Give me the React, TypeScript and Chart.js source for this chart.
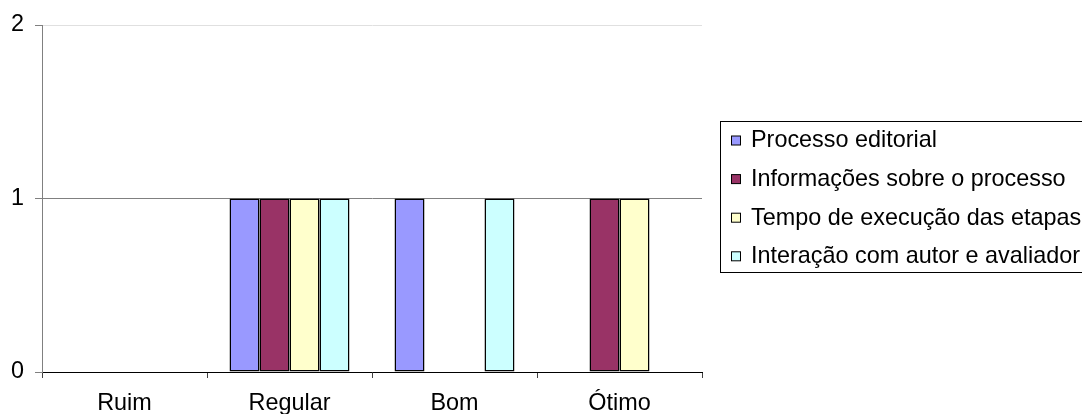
import React, { useEffect, useRef } from "react";
import { Chart, registerables } from "chart.js";

Chart.register(...registerables);

const categories = ["Ruim", "Regular", "Bom", "Ótimo"];
const seriesNames = [
  "Processo editorial",
  "Informações sobre o processo",
  "Tempo de execução das etapas",
  "Interação com autor e avaliador",
];
const processoEditorial = [0, 1, 1, 0];
const informacoesProcesso = [0, 1, 0, 1];
const tempoExecucao = [0, 1, 0, 1];
const interacaoAutor = [0, 1, 1, 0];
const seriesColors = ["#9999FF", "#993366", "#FFFFCC", "#CCFFFF"];
const yTicks = [0, 1, 2];

const FONT = "'Liberation Sans', Arial, sans-serif";
const FONT_SIZE = 23.4;

const legendPlugin = {
  id: "customLegend",
  afterDraw(chart: any) {
    const ctx = chart.ctx;
    const boxX = 720.5;
    const boxY = 121.5;
    ctx.save();
    ctx.strokeStyle = "#000";
    ctx.lineWidth = 1;
    ctx.strokeRect(boxX, boxY, 420, 151);
    ctx.font = `${FONT_SIZE}px ${FONT}`;
    ctx.textBaseline = "middle";
    ctx.fillStyle = "#000";
    chart.data.datasets.forEach((ds: any, i: number) => {
      const cy = 140 + i * 38.6;
      ctx.fillStyle = ds.backgroundColor;
      ctx.fillRect(731.5, cy - 4, 9, 9);
      ctx.strokeStyle = "#000";
      ctx.strokeRect(731.5, cy - 4, 9, 9);
      ctx.fillStyle = "#000";
      ctx.fillText(ds.label, 751, cy + 1);
    });
    ctx.restore();
  },
};

export default function App() {
  const ref = useRef<HTMLCanvasElement | null>(null);
  useEffect(() => {
    if (!ref.current) return;
    const values = [processoEditorial, informacoesProcesso, tempoExecucao, interacaoAutor];
    const chart = new Chart(ref.current, {
      type: "bar",
      data: {
        labels: categories,
        datasets: seriesNames.map((name, i) => ({
          label: name,
          data: values[i],
          backgroundColor: seriesColors[i],
          borderColor: "#000",
          borderWidth: 1.5,
          borderSkipped: false,
          barPercentage: 1,
          categoryPercentage: 0.727,
        })),
      },
      options: {
        animation: false,
        responsive: false,
        devicePixelRatio: 1,
        layout: { padding: { left: 0, right: 380, top: 14, bottom: 0 } },
        plugins: { legend: { display: false }, tooltip: { enabled: false } },
        scales: {
          x: {
            offset: true,
            grid: {
              offset: true,
              drawOnChartArea: false,
              tickLength: 6,
              tickColor: "#404040",
            },
            border: { color: "#000", width: 1 },
            ticks: {
              color: "#000",
              font: { family: FONT, size: FONT_SIZE },
              padding: 12,
              maxRotation: 0,
            },
            afterFit(scale: any) {
              scale.height = 42;
            },
          },
          y: {
            min: 0,
            max: 2,
            afterBuildTicks(scale: any) {
              scale.ticks = yTicks.map((v) => ({ value: v }));
            },
            grid: {
              color: (c: any) => (c.tick && c.tick.value === 2 ? "#e0e0e0" : "#808080"),
              tickColor: "#808080",
              tickLength: 7,
            },
            border: { color: "#808080", width: 1 },
            ticks: {
              color: "#000",
              font: { family: FONT, size: FONT_SIZE },
              padding: 11,
            },
            afterFit(scale: any) {
              scale.width = 42;
            },
          },
        },
      },
      plugins: [legendPlugin],
    });
    return () => chart.destroy();
  }, []);
  return (
    <div style={{ position: "absolute", left: 0, top: 0, width: 1082, height: 414, background: "#fff" }}>
      <canvas ref={ref} width={1082} height={414} style={{ display: "block" }} />
    </div>
  );
}
